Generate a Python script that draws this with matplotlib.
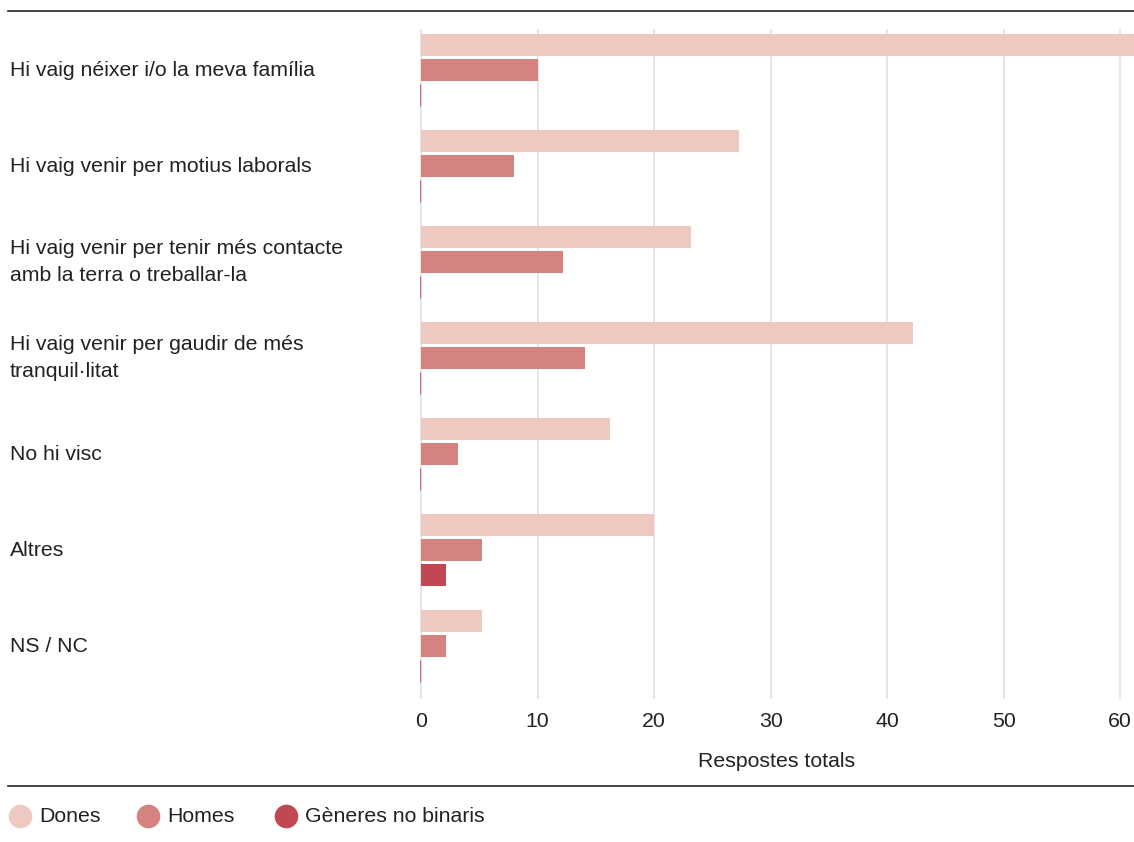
import numpy as np
import matplotlib
matplotlib.use("Agg")
import matplotlib.pyplot as plt
from matplotlib import transforms
from matplotlib.lines import Line2D

plt.rcParams['font.family'] = ['Liberation Sans', 'DejaVu Sans']

categories = [
    "Hi vaig néixer i/o la meva família",
    "Hi vaig venir per motius laborals",
    "Hi vaig venir per tenir més contacte\namb la terra o treballar-la",
    "Hi vaig venir per gaudir de més\ntranquil·litat",
    "No hi visc",
    "Altres",
    "NS / NC",
]
dones = [62, 27.3, 23.2, 42.2, 16.2, 20, 5.2]
homes = [10, 8, 12.2, 14.1, 3.2, 5.2, 2.1]
no_binaris = [0, 0, 0, 0, 0, 2.1, 0]

series_names = ["Dones", "Homes", "Gèneres no binaris"]
colors = ["#EEC9C1", "#D58380", "#C14852"]
xticks = [0, 10, 20, 30, 40, 50, 60]

W, H = 1134, 842
FS = 15.3
fig = plt.figure(figsize=(W / 100, H / 100), dpi=100)
ax = fig.add_axes([420 / W, 1 - 690 / H, 1 - 420 / W, (690 - 30) / H])

y = np.arange(len(categories))
step = 25 / 96
height = 22 / 96
for k, (vals, c) in enumerate(zip([dones, homes, no_binaris], colors)):
    pos = y + (k - 1) * step
    ax.barh(pos, vals, height=height, color=c, zorder=3)
    for p, v in zip(pos, vals):
        if v == 0:
            ax.plot([-0.1, -0.1], [p - height / 2, p + height / 2], color=c,
                    lw=1.0, alpha=0.7, zorder=3, solid_capstyle='butt')

ax.set_xlim(-0.1, 61.2)
ax.set_ylim(6 + 44 / 96, -40 / 96)
ax.set_xticks(xticks)
ax.set_xticklabels([str(t) for t in xticks], fontsize=FS, color="#222222")
ax.tick_params(axis='x', length=0, pad=16)
ax.set_yticks([])
for s in ax.spines.values():
    s.set_visible(False)
for t in xticks:
    ax.axvline(t, color="#e2e2e2", lw=1.2, zorder=1, ymin=-0.012, clip_on=False)
ax.set_xlabel("Respostes totals", fontsize=FS, color="#222222", labelpad=15)

# category labels on the left
trans = transforms.blended_transform_factory(fig.transFigure, ax.transData)
for yi, lab in zip(y, categories):
    ax.text(10 / W, yi, lab, transform=trans, ha='left', va='center',
            fontsize=FS, color="#222222", linespacing=1.5)

# rules above and below
fig.add_artist(Line2D([8 / W, 1], [1 - 11 / H, 1 - 11 / H], color="#222222", lw=1.2))
fig.add_artist(Line2D([8 / W, 1], [1 - 786 / H, 1 - 786 / H], color="#222222", lw=1.2))

# legend
leg_x = [20, 148, 286]
for lx, name, c in zip(leg_x, series_names, colors):
    fig.add_artist(Line2D([lx / W], [1 - 816 / H], marker='o', markersize=16,
                          color=c, lw=0, transform=fig.transFigure))
    fig.text((lx + 19) / W, 1 - 816 / H, name, ha='left', va='center',
             fontsize=FS, color="#222222")

fig.savefig("out.png", dpi=100)
